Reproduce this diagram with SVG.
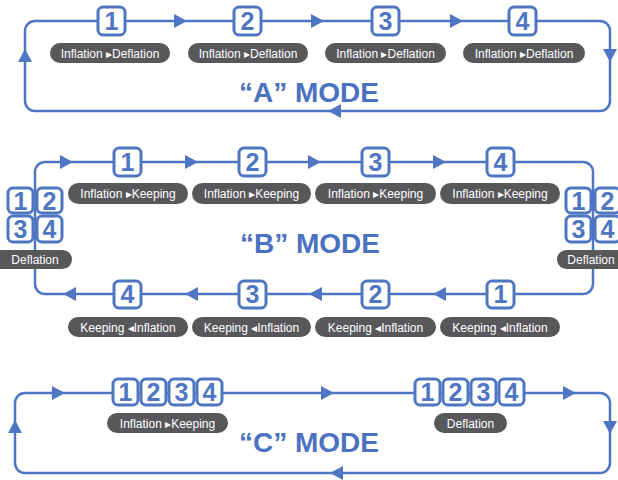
<svg xmlns="http://www.w3.org/2000/svg" width="618" height="480" viewBox="0 0 618 480">
<style>
.ln{fill:none;stroke:#4f76c2;stroke-width:2.5}
.ar{fill:#4f76c2}
.bx{fill:#fff;stroke:#4f76c2;stroke-width:3}
.num{font-family:"Liberation Sans",Arial,sans-serif;font-weight:bold;font-size:25px;fill:#4f76c2;text-anchor:middle}
.pill{fill:#58585b}
.pt{font-family:"Liberation Sans",Arial,sans-serif;font-size:12px;fill:#fff;text-anchor:middle}
.title{font-family:"Liberation Sans",Arial,sans-serif;font-weight:bold;font-size:28px;fill:#4a72c0;text-anchor:middle}
</style>
<defs>
<path id="aR" d="M-6,-7 L7,0 L-6,7 Z"/>
<path id="aL" d="M6,-7 L-7,0 L6,7 Z"/>
<path id="aU" d="M-7,6 L0,-7 L7,6 Z"/>
<path id="aD" d="M-7,-6 L0,7 L7,-6 Z"/>
</defs>
<rect width="618" height="480" fill="#fff"/>

<g id="connectors">
<rect class="ln" x="25" y="21" width="585" height="90" rx="10"/>
<use href="#aR" class="ar" x="180" y="21"/>
<use href="#aR" class="ar" x="317" y="21"/>
<use href="#aR" class="ar" x="456" y="21"/>
<use href="#aD" class="ar" x="610" y="55"/>
<use href="#aL" class="ar" x="335" y="111"/>
<use href="#aU" class="ar" x="25" y="56"/>
<rect class="ln" x="35" y="162" width="558" height="132" rx="10"/>
<use href="#aR" class="ar" x="66" y="162"/>
<use href="#aR" class="ar" x="191" y="162"/>
<use href="#aR" class="ar" x="314" y="162"/>
<use href="#aR" class="ar" x="439" y="162"/>
<use href="#aL" class="ar" x="70" y="294"/>
<use href="#aL" class="ar" x="192" y="294"/>
<use href="#aL" class="ar" x="316" y="294"/>
<use href="#aL" class="ar" x="440" y="294"/>
<rect class="ln" x="15" y="393" width="595" height="80" rx="10"/>
<use href="#aR" class="ar" x="58" y="393"/>
<use href="#aR" class="ar" x="327" y="393"/>
<use href="#aR" class="ar" x="569" y="393"/>
<use href="#aD" class="ar" x="610" y="427"/>
<use href="#aL" class="ar" x="337" y="473"/>
<use href="#aU" class="ar" x="15" y="427"/>
</g>

<g id="a1"><rect class="bx" x="98" y="7" width="27" height="28" rx="5"/><text class="num" x="111.5" y="30">1</text>
<rect class="pill" x="50" y="43" width="120" height="20" rx="10"/><text class="pt" x="110" y="57.5">Inflation ▸Deflation</text></g>
<g id="a2"><rect class="bx" x="234" y="7" width="27" height="28" rx="5"/><text class="num" x="247.5" y="30">2</text>
<rect class="pill" x="188" y="43" width="120" height="20" rx="10"/><text class="pt" x="248" y="57.5">Inflation ▸Deflation</text></g>
<g id="a3"><rect class="bx" x="372" y="7" width="27" height="28" rx="5"/><text class="num" x="385.5" y="30">3</text>
<rect class="pill" x="325" y="43" width="121" height="20" rx="10"/><text class="pt" x="385.5" y="57.5">Inflation ▸Deflation</text></g>
<g id="a4"><rect class="bx" x="509" y="7" width="27" height="28" rx="5"/><text class="num" x="522.5" y="30">4</text>
<rect class="pill" x="463" y="43" width="122" height="20" rx="10"/><text class="pt" x="524" y="57.5">Inflation ▸Deflation</text></g>
<g id="titleA"><text class="title" x="309" y="102">“A” MODE</text></g>

<g id="b1"><rect class="bx" x="114" y="148" width="27" height="28" rx="5"/><text class="num" x="127.5" y="171">1</text>
<rect class="pill" x="68" y="183" width="120" height="21" rx="10.5"/><text class="pt" x="128" y="198">Inflation ▸Keeping</text></g>
<g id="b2"><rect class="bx" x="239" y="148" width="27" height="28" rx="5"/><text class="num" x="252.5" y="171">2</text>
<rect class="pill" x="192" y="183" width="119" height="21" rx="10.5"/><text class="pt" x="251.5" y="198">Inflation ▸Keeping</text></g>
<g id="b3"><rect class="bx" x="362" y="148" width="27" height="28" rx="5"/><text class="num" x="375.5" y="171">3</text>
<rect class="pill" x="315" y="183" width="121" height="21" rx="10.5"/><text class="pt" x="375.5" y="198">Inflation ▸Keeping</text></g>
<g id="b4"><rect class="bx" x="487" y="148" width="27" height="28" rx="5"/><text class="num" x="500.5" y="171">4</text>
<rect class="pill" x="440" y="183" width="120" height="21" rx="10.5"/><text class="pt" x="500" y="198">Inflation ▸Keeping</text></g>

<g id="bL">
<rect class="bx" x="8" y="188" width="25" height="25" rx="5"/><text class="num" x="20.5" y="210">1</text>
<rect class="bx" x="37" y="188" width="25" height="25" rx="5"/><text class="num" x="49.5" y="210">2</text>
<rect class="bx" x="8" y="216" width="25" height="26" rx="5"/><text class="num" x="20.5" y="238">3</text>
<rect class="bx" x="37" y="216" width="25" height="26" rx="5"/><text class="num" x="49.5" y="238">4</text>
<rect class="pill" x="-10" y="250" width="82" height="19" rx="9.5"/><text class="pt" x="35" y="264">Deflation</text>
</g>
<g id="bR">
<rect class="bx" x="566" y="188" width="25" height="25" rx="5"/><text class="num" x="578.5" y="210">1</text>
<rect class="bx" x="595" y="188" width="25" height="25" rx="5"/><text class="num" x="607.5" y="210">2</text>
<rect class="bx" x="566" y="216" width="25" height="26" rx="5"/><text class="num" x="578.5" y="238">3</text>
<rect class="bx" x="595" y="216" width="25" height="26" rx="5"/><text class="num" x="607.5" y="238">4</text>
<rect class="pill" x="557" y="250" width="82" height="19" rx="9.5"/><text class="pt" x="591" y="264">Deflation</text>
</g>

<g id="bb1"><rect class="bx" x="487" y="281" width="27" height="27" rx="5"/><text class="num" x="500.5" y="303">1</text>
<rect class="pill" x="440" y="317" width="120" height="20" rx="10"/><text class="pt" x="500" y="331.5">Keeping ◂Inflation</text></g>
<g id="bb2"><rect class="bx" x="362" y="281" width="27" height="27" rx="5"/><text class="num" x="375.5" y="303">2</text>
<rect class="pill" x="315" y="317" width="121" height="20" rx="10"/><text class="pt" x="375.5" y="331.5">Keeping ◂Inflation</text></g>
<g id="bb3"><rect class="bx" x="239" y="281" width="27" height="27" rx="5"/><text class="num" x="252.5" y="303">3</text>
<rect class="pill" x="192" y="317" width="119" height="20" rx="10"/><text class="pt" x="251.5" y="331.5">Keeping ◂Inflation</text></g>
<g id="bb4"><rect class="bx" x="114" y="281" width="27" height="27" rx="5"/><text class="num" x="127.5" y="303">4</text>
<rect class="pill" x="68" y="317" width="120" height="20" rx="10"/><text class="pt" x="128" y="331.5">Keeping ◂Inflation</text></g>
<g id="titleB"><text class="title" x="310" y="253">“B” MODE</text></g>

<g id="c1">
<rect class="bx" x="113" y="379" width="25" height="26" rx="5"/><text class="num" x="125.5" y="401">1</text>
<rect class="bx" x="141" y="379" width="25" height="26" rx="5"/><text class="num" x="153.5" y="401">2</text>
<rect class="bx" x="169" y="379" width="25" height="26" rx="5"/><text class="num" x="181.5" y="401">3</text>
<rect class="bx" x="197" y="379" width="25" height="26" rx="5"/><text class="num" x="209.5" y="401">4</text>
<rect class="pill" x="107" y="413" width="121" height="20" rx="10"/><text class="pt" x="167.5" y="427.5">Inflation ▸Keeping</text>
</g>
<g id="c2">
<rect class="bx" x="415" y="379" width="25" height="26" rx="5"/><text class="num" x="427.5" y="401">1</text>
<rect class="bx" x="443" y="379" width="25" height="26" rx="5"/><text class="num" x="455.5" y="401">2</text>
<rect class="bx" x="471" y="379" width="25" height="26" rx="5"/><text class="num" x="483.5" y="401">3</text>
<rect class="bx" x="499" y="379" width="25" height="26" rx="5"/><text class="num" x="511.5" y="401">4</text>
<rect class="pill" x="434" y="413" width="73" height="20" rx="10"/><text class="pt" x="470.5" y="427.5">Deflation</text>
</g>
<g id="titleC"><text class="title" x="309" y="452">“C” MODE</text></g>
</svg>
